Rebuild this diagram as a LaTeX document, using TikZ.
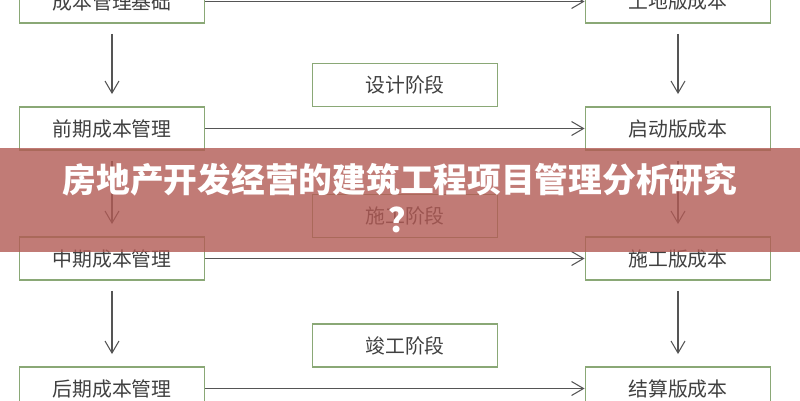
\documentclass[tikz,border=0pt]{standalone}
\usepackage{fontspec}
\newfontfamily\cjk{Noto Sans CJK SC}
\usetikzlibrary{arrows.meta}
\definecolor{boxgreen}{RGB}{138,168,118}
\definecolor{textgray}{RGB}{64,64,64}
\definecolor{linegray}{RGB}{85,85,85}
\definecolor{bannerred}{RGB}{178,90,84}
\tikzset{
  costbox/.style={draw=boxgreen, line width=1.1pt, minimum width=3.7cm, minimum height=0.86cm,
    inner sep=0pt, text=textgray, font=\cjk\fontsize{11.3}{13}\selectfont},
  flow/.style={draw=linegray, line width=0.6pt, -{Straight Barb[length=0.24cm,width=0.28cm]}},
}
\begin{document}
\begin{tikzpicture}[x=0.02cm,y=-0.02cm]
        \useasboundingbox (0,0) rectangle (800,400);
        % 左の列
        \node[costbox] (basis) at (112,1.5) {成本管理基础};
        \node[costbox] (early) at (112,128.5) {前期成本管理};
        \node[costbox] (middle) at (112,258.5) {中期成本管理};
        \node[costbox] (late) at (112,388.5) {后期成本管理};
        % 右の列
        \node[costbox] (land) at (678,1.5) {土地版成本};
        \node[costbox] (start) at (678,128.5) {启动版成本};
        \node[costbox] (build) at (678,258.5) {施工版成本};
        \node[costbox] (settle) at (678,388.5) {结算版成本};
        % 中央の段階
        \node[costbox] (design) at (405,85) {设计阶段};
        \node[costbox] (construct) at (405,216) {施工阶段};
        \node[costbox] (complete) at (405,345.5) {竣工阶段};
        % 横の矢印
        \draw[flow] (basis) -- (land);
        \draw[flow] (early) -- (start);
        \draw[flow] (middle) -- (build);
        \draw[flow] (late) -- (settle);
        % 縦の矢印
        \draw[flow, shorten <=0.2cm, shorten >=0.24cm] (basis) -- (early);
        \draw[flow, shorten <=0.2cm, shorten >=0.24cm] (early) -- (middle);
        \draw[flow, shorten <=0.2cm, shorten >=0.24cm] (middle) -- (late);
        \draw[flow, shorten <=0.2cm, shorten >=0.24cm] (land) -- (start);
        \draw[flow, shorten <=0.2cm, shorten >=0.24cm] (start) -- (build);
        \draw[flow, shorten <=0.2cm, shorten >=0.24cm] (build) -- (settle);
        % 帯とタイトル
        \fill[bannerred, opacity=0.8] (0,148) rectangle (800,252);
        \node[text=white, align=center, font=\cjk\bfseries\fontsize{19.2}{23}\selectfont]
          (title) at (400,198) {房地产开发经营的建筑工程项目管理分析研究\\\hspace*{0.3em}？};
      \end{tikzpicture}
\end{document}
